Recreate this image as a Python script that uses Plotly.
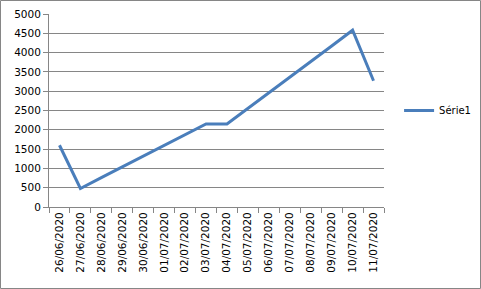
import plotly.graph_objects as go

dates = ["26/06/2020", "27/06/2020", "28/06/2020", "29/06/2020", "30/06/2020",
         "01/07/2020", "02/07/2020", "03/07/2020", "04/07/2020", "05/07/2020",
         "06/07/2020", "07/07/2020", "08/07/2020", "09/07/2020", "10/07/2020",
         "11/07/2020"]
serie1 = [1600, 480, 760, 1040, 1320, 1590, 1870, 2150, 2150, 2550,
          2960, 3360, 3770, 4170, 4580, 3270]
y_ticks = [0, 500, 1000, 1500, 2000, 2500, 3000, 3500, 4000, 4500, 5000]

W, H = 481, 289
ml, mr, mt, mb = 49, 97, 14, 82
pw, ph = W - ml - mr, H - mt - mb

fig = go.Figure()
fig.add_trace(go.Scatter(x=dates, y=serie1, mode="lines", name="Série1",
                         line=dict(color="#4a7ebb", width=3)))

grid = "#868686"
fig.update_layout(
    width=W, height=H,
    margin=dict(l=ml, r=mr, t=mt, b=mb, pad=0, autoexpand=False),
    paper_bgcolor="white", plot_bgcolor="white",
    font=dict(family="DejaVu Sans", size=10, color="black"),
    showlegend=True,
    legend=dict(x=1.045, y=0.5, xanchor="left", yanchor="middle",
                font=dict(size=10), bgcolor="rgba(0,0,0,0)",
                itemwidth=30),
    xaxis=dict(type="category", tickangle=-90, showgrid=False,
               showline=True, linecolor=grid, linewidth=1,
               ticks="outside", tickson="boundaries", ticklen=5,
               tickcolor=grid, tickfont=dict(size=10.5), automargin=False,
               range=[-0.5, len(dates) - 0.5]),
    yaxis=dict(range=[0, 5000], tickvals=y_ticks, showgrid=True,
               gridcolor=grid, gridwidth=1, showline=True, linecolor=grid,
               ticks="outside", ticklen=5, tickcolor=grid, zeroline=False,
               tickfont=dict(size=10.5), automargin=False),
)

# outer chart border
fig.add_shape(type="rect", xref="paper", yref="paper",
              x0=(-ml + 0.5) / pw, x1=(W - ml - 0.5) / pw,
              y0=(-mb + 0.5) / ph, y1=(H - mb - 0.5) / ph,
              line=dict(color="#868686", width=1), layer="above")

fig.write_html("out.html")
